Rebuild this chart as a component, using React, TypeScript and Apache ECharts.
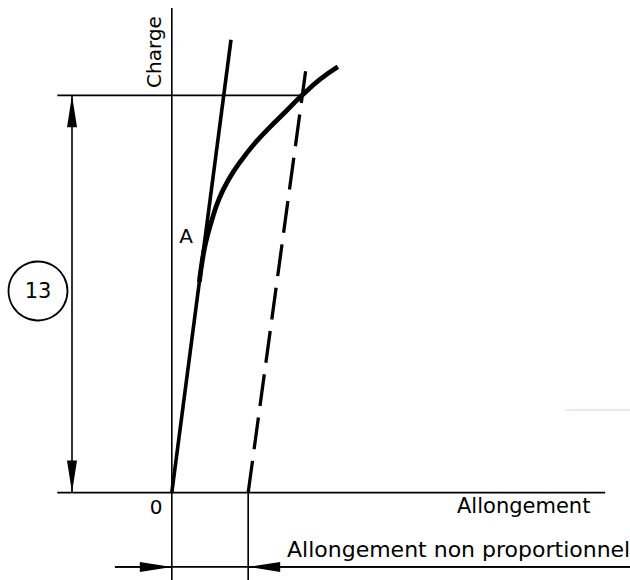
import React, { useEffect, useRef } from "react";
import * as echarts from "echarts";

// Data space: x = elongation (%), y = load (% of proof load)
const X_RANGE = [-0.45, 1.2];
const Y_RANGE = [-22, 124];

const loadAxis = [[0, -22], [0, 122]];
const elongationAxis = [[-0.3, 0], [1.135, 0]];
const proofLoadLine = [[-0.3, 100], [0.3415, 100]];
const offsetExtension = [[0.2, 0], [0.2, -22]];
const elasticLine = [[0, 0], [0.155, 114]];
const loadCurve = [
  [0.072, 53], [0.08, 58.5], [0.089, 63], [0.103, 68], [0.124, 74], [0.15, 79],
  [0.181, 83.5], [0.218, 88], [0.257, 92], [0.299, 96], [0.341, 100], [0.388, 104], [0.435, 107.2],
];
const offsetLine = [[0.2, 0], [0.351, 106.5]];
const loadDimX = -0.2614;
const loadDimMid = 50;
const elongDimY = -18.7;
const elongDimLine = [[-0.149, -18.7], [1.2, -18.7]];

const labels = {
  load: "Charge",
  elong: "Allongement",
  origin: "0",
  pointA: "A",
  ref: "13",
  nonProp: "Allongement non proportionnel",
};

const INK = "#000000";
const FONT = "DejaVu Sans, Liberation Sans, sans-serif";

function thin(data: number[][], width = 1.6) {
  return {
    type: "line",
    data,
    symbol: "none",
    silent: true,
    clip: false,
    lineStyle: { color: INK, width, type: "solid", cap: "butt" },
    z: 2,
  };
}

// arrow end (tip exactly at the given coordinate)
function tip(coord: number[]) {
  return { coord, symbol: "triangle", symbolSize: [10, 32], symbolOffset: [0, 16] };
}

export default function App() {
  const ref = useRef<HTMLDivElement>(null);
  useEffect(() => {
    if (!ref.current) return;
    const chart = echarts.init(ref.current, null, { renderer: "svg" });
    const option = {
      animation: false,
      backgroundColor: "#ffffff",
      grid: { left: 0, right: 0, top: 0, bottom: 0, containLabel: false },
      xAxis: { type: "value", min: X_RANGE[0], max: X_RANGE[1], show: false },
      yAxis: { type: "value", min: Y_RANGE[0], max: Y_RANGE[1], show: false },
      series: [
        thin(loadAxis),
        thin(elongationAxis),
        thin(proofLoadLine),
        thin(offsetExtension),
        {
          ...thin(elongDimLine, 1.6),
          markLine: {
            silent: true,
            symbol: ["none", "triangle"],
            symbolSize: 10,
            label: { show: false },
            lineStyle: { type: "solid", color: INK, width: 1.6 },
            itemStyle: { color: INK },
            data: [
              [{ coord: [loadDimX, loadDimMid], symbol: "none" }, tip([loadDimX, 100])],
              [{ coord: [loadDimX, loadDimMid], symbol: "none" }, tip([loadDimX, 0])],
              [{ coord: [-0.149, elongDimY], symbol: "none" }, tip([0, elongDimY])],
              [{ coord: [1.2, elongDimY], symbol: "none" }, tip([0.2, elongDimY])],
            ],
          },
        },
        { ...thin(elasticLine, 3.6), z: 3 },
        {
          ...thin(offsetLine, 3.3),
          lineStyle: { color: INK, width: 3.3, type: [32, 11.7], cap: "butt" },
          z: 3,
        },
        {
          ...thin(loadCurve, 4.8),
          smooth: true,
          lineStyle: { color: INK, width: 4.8, type: "solid", cap: "butt", join: "round" },
          z: 4,
        },
      ],
      graphic: [
        {
          type: "text", x: 154, y: 52, rotation: Math.PI / 2,
          style: { text: labels.load, font: `20px ${FONT}`, fill: INK, align: "center", verticalAlign: "middle", textAlign: "center", textVerticalAlign: "middle" },
        },
        {
          type: "text", x: 457, y: 506,
          style: { text: labels.elong, font: `21px ${FONT}`, fill: INK, align: "left", verticalAlign: "middle", textAlign: "left", textVerticalAlign: "middle" },
        },
        {
          type: "text", x: 156, y: 507,
          style: { text: labels.origin, font: `20px ${FONT}`, fill: INK, align: "center", verticalAlign: "middle", textAlign: "center", textVerticalAlign: "middle" },
        },
        {
          type: "text", x: 186, y: 236,
          style: { text: labels.pointA, font: `20px ${FONT}`, fill: INK, align: "center", verticalAlign: "middle", textAlign: "center", textVerticalAlign: "middle" },
        },
        {
          type: "circle", shape: { cx: 38, cy: 291, r: 29.5 },
          style: { fill: "none", stroke: INK, lineWidth: 1.8 },
        },
        {
          type: "text", x: 38, y: 291,
          style: { text: labels.ref, font: `21px ${FONT}`, fill: INK, align: "center", verticalAlign: "middle", textAlign: "center", textVerticalAlign: "middle" },
        },
        {
          type: "text", x: 287, y: 549,
          style: { text: labels.nonProp, font: `22px ${FONT}`, fill: INK, align: "left", verticalAlign: "middle", textAlign: "left", textVerticalAlign: "middle" },
        },
        {
          type: "line", shape: { x1: 565, y1: 410, x2: 630, y2: 410 },
          style: { stroke: "#f8e3e8", lineWidth: 2 },
        },
      ],
    };
    chart.setOption(option as any);
    return () => chart.dispose();
  }, []);
  return (
    <div
      ref={ref}
      style={{ position: "absolute", left: 0, top: 0, width: 630, height: 580, background: "#fff" }}
    />
  );
}
